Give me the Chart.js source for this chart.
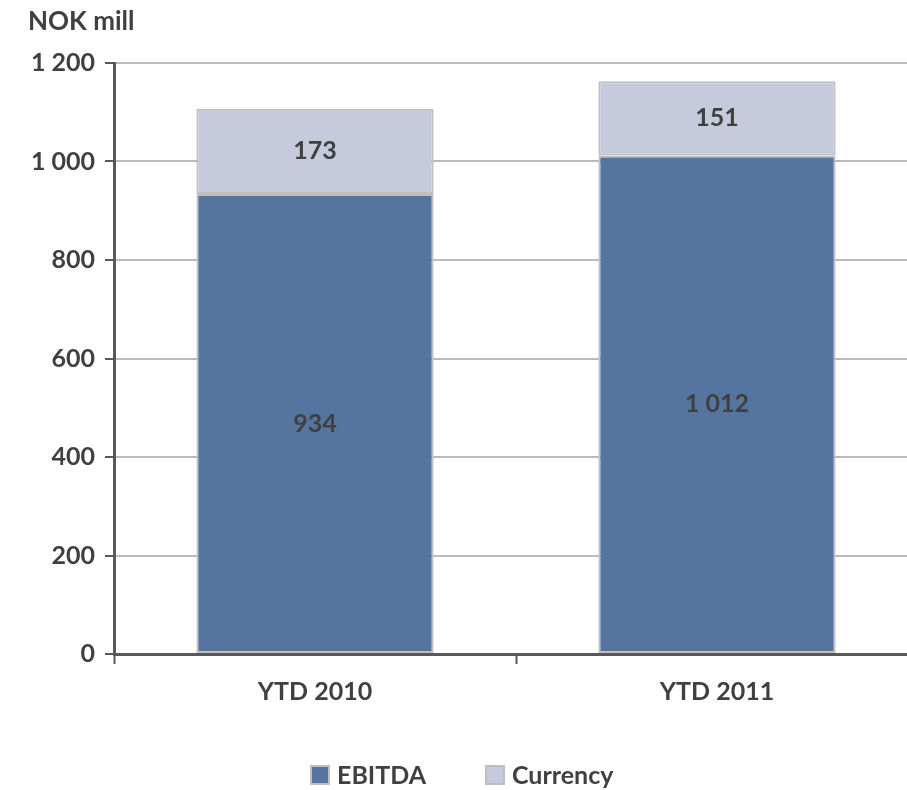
<!DOCTYPE html>
<html>
<head>
<meta charset="utf-8">
<script src="https://cdn.jsdelivr.net/npm/chart.js@4.4.1/dist/chart.umd.min.js"></script>
<style>
  html, body { margin: 0; padding: 0; background: #fff; overflow: hidden; }
  #wrap { width: 920px; height: 790px; }
</style>
</head>
<body>
<div id="wrap"><canvas id="c" width="920" height="790"></canvas></div>
<script>
// Chart data
const categories = ['YTD 2010', 'YTD 2011'];
const ebitda = [934, 1012];
const currency = [173, 151];
const seriesNames = ['EBITDA', 'Currency'];
const yTicks = [0, 200, 400, 600, 800, 1000, 1200];
const unitLabel = 'NOK mill';

const FONT = 'Lato, "Open Sans", sans-serif';
const TEXT = '#404040';
const COLORS = ['#5574a0', '#c5cbdc'];

// thousands separated by a space, e.g. 1 012
function fmt(v) {
  return String(v).replace(/\B(?=(\d{3})+(?!\d))/g, ' ');
}

// value labels centred inside each stacked segment
const segmentLabels = {
  id: 'segmentLabels',
  afterDatasetsDraw(chart) {
    const ctx = chart.ctx;
    ctx.save();
    ctx.font = 'bold 25px ' + FONT;
    ctx.fillStyle = TEXT;
    ctx.textAlign = 'center';
    ctx.textBaseline = 'middle';
    chart.data.datasets.forEach((ds, i) => {
      const meta = chart.getDatasetMeta(i);
      meta.data.forEach((bar, j) => {
        const p = bar.getProps(['x', 'y', 'base'], true);
        ctx.fillText(fmt(ds.data[j]), p.x, (p.y + p.base) / 2);
      });
    });
    ctx.restore();
  }
};

// unit caption above the value axis and the legend row under the chart
const captions = {
  id: 'captions',
  afterDraw(chart) {
    const ctx = chart.ctx;
    ctx.save();
    ctx.font = 'bold 26px ' + FONT;
    ctx.fillStyle = TEXT;
    ctx.textBaseline = 'middle';
    ctx.textAlign = 'left';
    ctx.fillText(unitLabel, 28, 22);

    // legend
    const items = chart.data.datasets.map(d => ({ text: d.label, color: d.backgroundColor }));
    const xs = [311, 486];
    const yMid = 775;
    items.forEach((it, k) => {
      const x = xs[k];
      ctx.fillStyle = it.color;
      ctx.fillRect(x, yMid - 9, 18, 18);
      ctx.strokeStyle = '#bfbfbf';
      ctx.lineWidth = 2;
      ctx.strokeRect(x, yMid - 9, 18, 18);
      ctx.fillStyle = TEXT;
      ctx.font = 'bold 25px ' + FONT;
      ctx.fillText(it.text, x + 26, yMid + 1);
    });
    ctx.restore();
  }
};

new Chart(document.getElementById('c'), {
  type: 'bar',
  data: {
    labels: categories,
    datasets: [
      {
        label: seriesNames[0],
        data: ebitda,
        backgroundColor: COLORS[0],
        borderColor: '#bfbfbf',
        borderWidth: 2,
        borderSkipped: false
      },
      {
        label: seriesNames[1],
        data: currency,
        backgroundColor: COLORS[1],
        borderColor: '#bfbfbf',
        borderWidth: 2,
        borderSkipped: false
      }
    ]
  },
  options: {
    responsive: false,
    animation: false,
    layout: { padding: { top: 63, right: 2, bottom: 0, left: 0 } },
    datasets: { bar: { barPercentage: 0.59, categoryPercentage: 1 } },
    plugins: {
      legend: { display: false },
      tooltip: { enabled: false }
    },
    scales: {
      x: {
        stacked: true,
        offset: true,
        grid: {
          offset: true,
          drawOnChartArea: false,
          drawTicks: true,
          tickLength: 10,
          tickColor: '#595959',
          tickWidth: 2
        },
        border: { display: true, color: '#595959', width: 3 },
        ticks: {
          color: TEXT,
          font: { family: FONT, size: 25, weight: 'bold' },
          padding: 13
        },
        afterFit(scale) { scale.height = 136; }
      },
      y: {
        stacked: true,
        min: 0,
        max: 1200,
        afterBuildTicks(scale) { scale.ticks = yTicks.map(v => ({ value: v })); },
        grid: {
          color: '#bababa',
          lineWidth: 2,
          drawTicks: true,
          tickLength: 9,
          tickColor: '#595959',
          tickWidth: 2
        },
        border: { display: true, color: '#595959', width: 3 },
        ticks: {
          color: TEXT,
          font: { family: FONT, size: 25, weight: 'bold' },
          padding: 10,
          callback: v => fmt(v)
        },
        afterFit(scale) { scale.width = 114; }
      }
    }
  },
  plugins: [segmentLabels, captions]
});
</script>
</body>
</html>
